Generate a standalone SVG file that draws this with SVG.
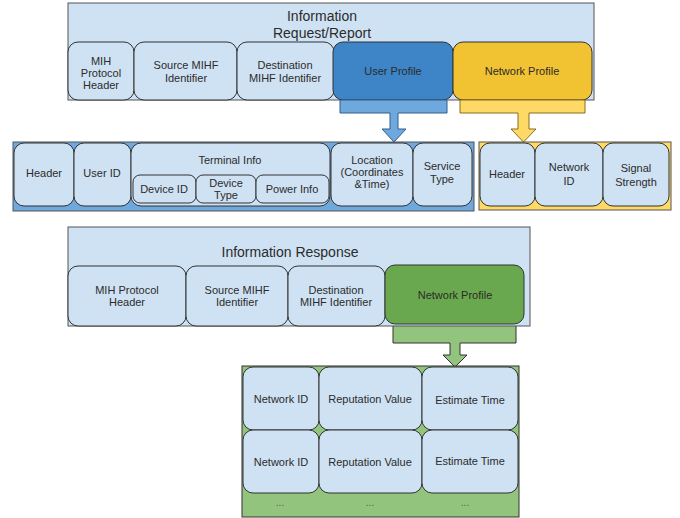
<svg xmlns="http://www.w3.org/2000/svg" width="680" height="518" viewBox="0 0 680 518">
<style>
text{font-family:"Liberation Sans",Arial,sans-serif;font-size:11px;fill:#2b2b2b;text-anchor:middle}
.title{font-size:14px}
.dots{fill:#555;font-size:10px}
.cont{stroke:#555;stroke-width:1}
.box{fill:#cfe2f3;stroke:#333;stroke-width:1}
</style>
<rect width="680" height="518" fill="#fff"/>
<g id="request">
<rect class="cont" x="68" y="3" width="526" height="97" fill="#cfe2f3"/>
<text class="title" x="322" y="21">Information</text>
<text class="title" x="322" y="38">Request/Report</text>
</g>
<g id="req-mih"><rect class="box" x="68" y="42" width="66" height="58" rx="10"/><text x="101" y="65">MIH</text><text x="101" y="77">Protocol</text><text x="101" y="89">Header</text></g>
<g id="req-src"><rect class="box" x="134" y="42" width="103" height="58" rx="10"/><text x="186" y="69">Source MIHF</text><text x="186" y="82">Identifier</text></g>
<g id="req-dst"><rect class="box" x="237" y="42" width="97" height="58" rx="10"/><text x="285" y="69">Destination</text><text x="285" y="82">MIHF Identifier</text></g>
<g id="req-user"><rect x="333" y="42" width="120" height="58" rx="10" fill="#3d85c6" stroke="#333"/><text x="393" y="75">User Profile</text></g>
<g id="req-net"><rect x="453" y="42" width="139" height="58" rx="10" fill="#f1c232" stroke="#333"/><text x="522" y="75">Network Profile</text></g>

<g id="connectors">
<path d="M340,100 H447 V113 H398 V129 H406 L394,142 L382,129 H390 V113 H340 Z" fill="#6fa8dc" stroke="#2d5f8f"/>
<path d="M460,100 H585 V113 H529 V129 H536 L523.5,142 L511,129 H518 V113 H460 Z" fill="#ffd966" stroke="#8a6d1a"/>
<path d="M393,324 H516 V343 H460 V355 H467 L455,367 L443,355 H450 V343 H393 Z" fill="#93c47d" stroke="#333"/>
</g>

<g id="user-profile">
<rect class="cont" x="13" y="142" width="461" height="69" fill="#6fa8dc"/>
</g>
<g id="up-header"><rect class="box" x="14" y="143" width="60" height="63" rx="10"/><text x="44" y="177">Header</text></g>
<g id="up-userid"><rect class="box" x="74" y="143" width="57" height="63" rx="10"/><text x="102" y="177">User ID</text></g>
<g id="up-terminal"><rect class="box" x="131" y="143" width="199" height="63" rx="10"/><text x="230" y="164">Terminal Info</text></g>
<g id="up-devid"><rect class="box" x="133" y="175" width="63" height="28" rx="7"/><text x="164" y="193">Device ID</text></g>
<g id="up-devtype"><rect class="box" x="196" y="175" width="60" height="28" rx="7"/><text x="226" y="187">Device</text><text x="226" y="199">Type</text></g>
<g id="up-power"><rect class="box" x="256" y="175" width="73" height="28" rx="7"/><text x="292" y="193">Power Info</text></g>
<g id="up-location"><rect class="box" x="331" y="143" width="82" height="63" rx="10"/><text x="372" y="164">Location</text><text x="372" y="176">(Coordinates</text><text x="372" y="188">&amp;Time)</text></g>
<g id="up-service"><rect class="box" x="413" y="143" width="59" height="63" rx="10"/><text x="442" y="170">Service</text><text x="442" y="183">Type</text></g>

<g id="network-profile">
<rect class="cont" x="479" y="142" width="192" height="68" fill="#ffd966"/>
</g>
<g id="np-header"><rect class="box" x="480" y="143" width="55" height="63" rx="10"/><text x="507" y="178">Header</text></g>
<g id="np-netid"><rect class="box" x="535" y="143" width="68" height="63" rx="10"/><text x="569" y="171">Network</text><text x="569" y="185">ID</text></g>
<g id="np-signal"><rect class="box" x="603" y="143" width="66" height="63" rx="10"/><text x="636" y="172">Signal</text><text x="636" y="186">Strength</text></g>

<g id="response">
<rect class="cont" x="68" y="227" width="462" height="99" fill="#cfe2f3"/>
<text class="title" x="290" y="257">Information Response</text>
</g>
<g id="res-mih"><rect class="box" x="68" y="266" width="118" height="60" rx="10"/><text x="127" y="294">MIH Protocol</text><text x="127" y="306">Header</text></g>
<g id="res-src"><rect class="box" x="186" y="266" width="102" height="60" rx="10"/><text x="237" y="294">Source MIHF</text><text x="237" y="306">Identifier</text></g>
<g id="res-dst"><rect class="box" x="288" y="266" width="97" height="60" rx="10"/><text x="336" y="294">Destination</text><text x="336" y="306">MIHF Identifier</text></g>
<g id="res-net"><rect x="385" y="265" width="139" height="59" rx="10" fill="#6aa84f" stroke="#333"/><text x="455" y="299">Network Profile</text></g>

<g id="table">
<rect x="242" y="366" width="277" height="151" fill="#93c47d" stroke="#333"/>
<text class="dots" x="280" y="506">...</text><text class="dots" x="370" y="506">...</text><text class="dots" x="465" y="506">...</text>
</g>
<g id="r1-netid"><rect class="box" x="243" y="367" width="76" height="63" rx="10"/><text x="281" y="403">Network ID</text></g>
<g id="r1-rep"><rect class="box" x="319" y="367" width="103" height="63" rx="10"/><text x="370" y="403">Reputation Value</text></g>
<g id="r1-est"><rect class="box" x="422" y="367" width="96" height="63" rx="10"/><text x="470" y="404">Estimate Time</text></g>
<g id="r2-netid"><rect class="box" x="243" y="430" width="76" height="63" rx="10"/><text x="281" y="466">Network ID</text></g>
<g id="r2-rep"><rect class="box" x="319" y="430" width="103" height="63" rx="10"/><text x="370" y="466">Reputation Value</text></g>
<g id="r2-est"><rect class="box" x="422" y="430" width="96" height="63" rx="10"/><text x="470" y="465">Estimate Time</text></g>
</svg>
